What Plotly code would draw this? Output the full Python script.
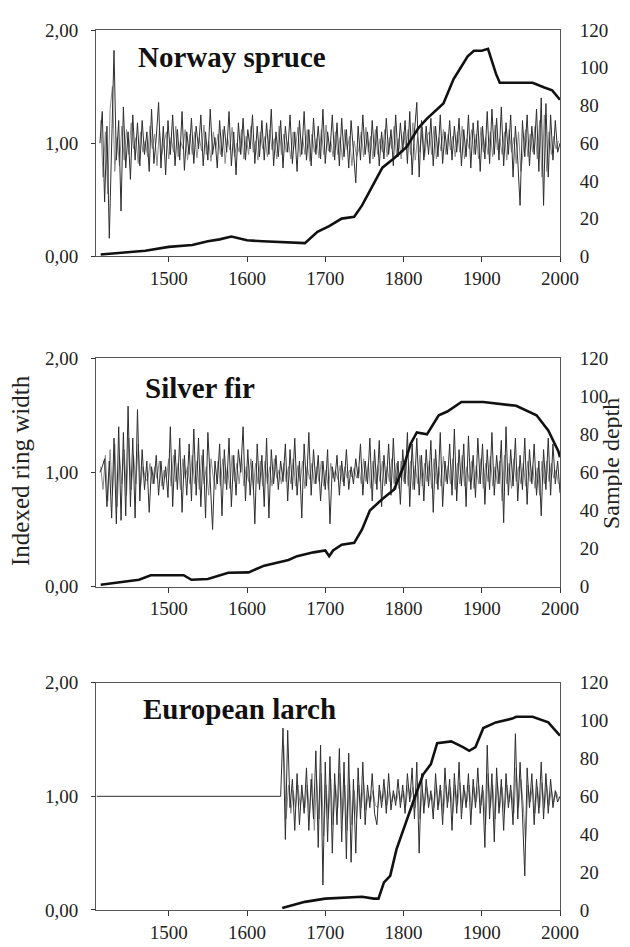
import plotly.graph_objects as go

# ---------------- data ----------------
# ring-width index (dark curve), sampled every 3 years
spruce_years = list(range(1412, 2001, 3))
spruce_index = [
    1.0, 1.28, 0.48, 1.15, 0.16, 1.05, 1.82, 0.85, 1.2, 0.4,
    1.32, 0.78, 1.1, 0.68, 1.25, 0.85, 1.18, 0.8, 1.2, 0.9,
    1.1, 0.75, 1.3, 0.82, 1.05, 1.36, 0.78, 1.15, 0.72, 1.2,
    0.9, 1.25, 0.8, 1.12, 0.85, 1.28, 0.76, 1.1, 0.9, 1.22,
    0.82, 1.15, 0.95, 1.25, 0.8, 1.1, 0.85, 1.3, 0.9, 1.05,
    0.78, 1.2, 0.88, 1.15, 0.92, 1.28, 0.8, 1.1, 0.72, 1.18,
    0.9, 1.22, 0.85, 1.12, 0.95, 1.25, 0.82, 1.15, 0.88, 1.2,
    0.85, 1.18, 0.9, 1.3, 0.8, 1.1, 0.88, 1.2, 0.78, 1.15,
    0.92, 1.25, 0.82, 1.1, 0.75, 1.2, 0.9, 1.28, 0.85, 1.12,
    0.8, 1.22, 0.9, 1.15, 0.86, 1.3, 0.82, 1.1, 0.92, 1.25,
    0.85, 1.18, 0.8, 1.22, 0.88, 1.12, 0.78, 1.2, 0.9, 0.65,
    1.15, 0.85, 1.25, 0.9, 1.1, 0.82, 1.2, 0.88, 1.15, 0.8,
    1.1, 0.86, 1.22, 0.9, 1.12, 0.8, 1.25, 0.88, 1.18, 0.92,
    1.2, 0.82, 1.28, 0.72, 1.1, 1.36, 0.7, 1.2, 0.85, 1.15,
    0.9, 1.22, 0.8, 1.15, 0.88, 1.25, 0.82, 1.1, 0.9, 1.2,
    0.85, 1.15, 0.92, 1.22, 0.8, 1.12, 0.88, 1.25, 0.78, 1.18,
    0.9, 1.2, 0.75, 1.15, 0.86, 1.28, 0.82, 1.3, 0.9, 1.22,
    0.85, 1.32, 0.8, 1.18, 0.9, 1.25, 0.7, 1.15, 0.85, 0.45,
    1.2, 0.88, 1.25, 0.8, 1.15, 0.9, 1.3, 0.75, 1.4, 0.45,
    1.35, 0.7, 1.25, 0.85, 1.2, 0.92, 1.0,
]
# ring-width index (light curve)
spruce_years_b = list(range(1413, 2000, 3))
spruce_index_b = [
    1.2, 0.7, 1.1, 0.55, 1.3, 1.5, 0.75, 1.05, 0.8, 1.15,
    0.85, 1.12, 0.9, 1.18, 0.95, 1.05, 0.82, 1.1, 0.92, 1.02,
    0.88, 1.15, 0.95, 1.08, 0.8, 1.12, 0.9, 1.0, 1.1, 0.86,
    1.05, 0.92, 1.15, 0.88, 1.02, 0.95, 1.12, 0.85, 1.08, 0.9,
    1.1, 0.87, 1.05, 0.93, 1.16, 0.9, 1.02, 0.84, 1.1, 0.95,
    1.08, 0.9, 1.12, 0.82, 1.05, 0.94, 1.14, 0.88, 1.0, 0.92,
    1.12, 0.86, 1.06, 0.9, 1.15, 0.92, 1.02, 0.85, 1.1, 0.95,
    1.06, 0.88, 1.12, 0.94, 1.04, 0.86, 1.15, 0.9, 1.08, 0.92,
    1.02, 0.86, 1.1, 0.95, 1.14, 0.88, 1.05, 0.9, 1.12, 0.84,
    1.08, 0.92, 1.04, 0.87, 1.12, 0.9, 1.16, 0.93, 1.02, 0.88,
    1.1, 0.9, 1.05, 0.85, 1.12, 0.94, 1.06, 0.8, 1.02, 0.88,
    0.95, 1.1, 0.88, 1.14, 0.92, 1.06, 0.86, 1.12, 0.9, 1.04,
    0.92, 1.12, 0.88, 1.05, 0.95, 1.15, 0.9, 1.04, 0.86, 1.1,
    0.95, 1.12, 0.9, 1.18, 0.85, 1.05, 0.92, 1.14, 0.88, 1.06,
    1.1, 0.9, 1.15, 0.86, 1.05, 0.93, 1.12, 0.9, 1.08, 0.94,
    1.06, 0.88, 1.1, 0.92, 1.15, 0.86, 1.04, 0.95, 1.12, 0.9,
    1.08, 0.86, 1.14, 0.92, 1.05, 0.9, 1.1, 0.88, 1.16, 0.94,
    1.04, 0.9, 1.1, 0.85, 1.12, 0.92, 1.05, 0.82, 1.1, 0.75,
    0.95, 1.12, 0.88, 1.08, 0.92, 1.15, 0.86, 1.2, 0.7, 1.25,
    0.75, 1.1, 0.9, 1.06, 0.95, 1.02,
]

fir_years = list(range(1412, 2001, 3))
fir_index = [
    1.0, 1.05, 1.12, 0.7, 1.1, 0.6, 1.3, 0.55, 1.4, 0.58,
    1.35, 0.62, 1.58, 0.7, 1.3, 0.6, 1.55, 0.75, 1.2, 0.85,
    1.1, 0.65, 1.05, 0.9, 1.15, 0.8, 1.1, 0.85, 1.05, 0.78,
    1.4, 0.7, 1.2, 0.85, 1.3, 0.65, 1.15, 0.8, 1.25, 0.75,
    1.38, 0.8, 1.3, 0.7, 1.2, 0.6, 1.35, 0.85, 0.5, 1.1,
    0.9, 1.25, 0.62, 1.2, 0.85, 1.3, 0.7, 1.15, 0.8, 1.2,
    1.0, 1.4, 0.75, 1.2, 0.8, 1.1, 0.55, 1.25, 0.85, 1.15,
    0.7, 1.3, 0.6, 1.2, 0.9, 1.15, 0.85, 1.1, 0.92, 1.25,
    0.75, 1.2, 0.85, 1.3, 0.8, 1.1, 0.6, 1.25, 0.88, 1.35,
    0.8, 1.2, 0.9, 1.15, 0.75, 1.1, 0.85, 1.2, 0.55, 1.05,
    0.92, 1.15, 0.8, 1.1, 0.88, 1.2, 0.85, 1.05, 0.9, 1.12,
    0.95, 1.25, 0.8, 1.1, 0.9, 1.3, 0.75, 1.2, 0.85, 1.28,
    0.7, 1.15, 0.9, 1.25, 0.8, 1.3, 0.85, 1.1, 0.72, 1.2,
    0.9, 1.35, 0.7, 1.25, 0.85, 1.3, 0.8, 1.15, 0.75, 1.2,
    0.88, 1.28, 0.65, 1.2, 0.85, 1.35, 0.7, 1.1, 0.9, 1.25,
    0.8, 1.38, 0.75, 1.2, 0.88, 1.25, 0.7, 1.32, 0.85, 1.15,
    0.78, 1.3, 0.9, 1.25, 0.72, 1.2, 0.85, 1.35, 0.8, 1.15,
    0.9, 1.28, 0.56, 1.4, 0.8, 1.2, 0.88, 1.3, 0.75, 1.15,
    0.85, 1.3, 0.72, 1.2, 0.9, 1.25, 0.8, 1.1, 0.62, 1.2,
    0.85, 1.3, 0.8, 1.25, 0.9, 1.1, 0.82,
]
fir_years_b = list(range(1413, 2000, 3))
fir_index_b = [
    1.05, 0.85, 1.15, 0.75, 1.2, 0.8, 1.25, 0.7, 1.15, 0.9,
    1.2, 0.8, 1.3, 0.85, 1.15, 0.9, 1.25, 0.88, 1.05, 0.95,
    0.92, 1.08, 0.9, 1.05, 0.95, 1.1, 0.88, 1.02, 0.95, 1.12,
    0.88, 1.15, 0.92, 1.08, 0.85, 1.12, 0.95, 1.05, 0.9, 1.15,
    0.9, 1.1, 0.85, 1.15, 0.9, 1.05, 0.8, 1.12, 0.95, 0.85,
    1.1, 0.88, 1.12, 0.9, 1.05, 0.86, 1.15, 0.92, 1.08, 0.9,
    1.15, 0.88, 1.05, 0.92, 1.12, 0.85, 1.08, 0.9, 1.1, 0.88,
    1.1, 0.9, 1.05, 0.88, 1.12, 0.95, 1.02, 0.9, 1.08, 0.92,
    1.05, 0.9, 1.12, 0.88, 1.06, 0.92, 1.1, 0.86, 1.05, 0.94,
    1.08, 0.9, 1.05, 0.92, 1.1, 0.88, 1.02, 0.85, 1.08, 0.95,
    1.02, 0.94, 1.06, 0.92, 1.05, 0.95, 1.02, 0.96, 1.04, 0.95,
    1.05, 0.9, 1.12, 0.92, 1.08, 0.86, 1.1, 0.9, 1.06, 0.92,
    1.1, 0.88, 1.05, 0.92, 1.12, 0.9, 1.08, 0.86, 1.1, 0.92,
    1.12, 0.88, 1.1, 0.85, 1.06, 0.9, 1.15, 0.88, 1.08, 0.92,
    1.1, 0.86, 1.12, 0.9, 1.05, 0.88, 1.14, 0.92, 1.06, 0.9,
    1.12, 0.85, 1.08, 0.9, 1.15, 0.88, 1.05, 0.92, 1.1, 0.86,
    1.06, 0.9, 1.12, 0.86, 1.08, 0.92, 1.14, 0.88, 1.05, 0.9,
    1.1, 0.75, 1.15, 0.9, 1.08, 0.86, 1.12, 0.92, 1.05, 0.9,
    1.08, 0.88, 1.1, 0.92, 1.06, 0.86, 1.04, 0.8, 1.1, 0.9,
    1.1, 0.92, 1.08, 0.95, 1.02, 0.9,
]

larch_years = [1408, 1643] + list(range(1646, 2001, 3))
larch_index = [1.0, 1.0] + [
    1.6, 0.62, 1.58, 0.9, 1.15, 0.7, 1.2, 0.75, 1.1, 0.85,
    1.25, 0.7, 1.15, 0.8, 1.4, 0.55, 1.45, 0.22, 1.3, 0.6,
    1.35, 0.5, 1.2, 0.75, 1.42, 0.6, 1.3, 0.45, 1.38, 0.42,
    1.15, 0.5, 1.25, 0.8, 1.3, 0.75, 1.1, 0.9, 1.2, 0.85,
    0.75, 1.1, 0.9, 1.15, 0.85, 1.2, 0.88, 1.05, 0.92, 1.15,
    0.9, 1.1, 0.85, 1.2, 0.95, 1.25, 0.8, 1.3, 0.5, 1.2,
    0.85, 1.15, 0.9, 1.05, 0.8, 1.2, 0.88, 1.1, 0.75, 1.25,
    0.9, 1.15, 0.7, 1.2, 0.85, 1.3, 0.8, 1.1, 0.9, 1.2,
    0.75, 1.15, 0.9, 1.25, 0.85, 1.1, 0.55, 1.45, 0.8, 1.2,
    0.6, 1.25, 0.85, 1.15, 0.7, 1.2, 0.9, 1.1, 0.75, 1.55,
    0.8, 1.3, 0.85, 0.3, 1.25, 0.9, 1.2, 0.75, 1.15, 0.85,
    1.3, 0.8, 1.2, 0.85, 1.15, 0.9, 1.05, 0.95, 1.0,
]
larch_years_b = list(range(1647, 2000, 3))
larch_index_b = [
    1.45, 0.8, 1.1, 0.85, 1.05, 0.9, 1.1, 0.92, 1.02, 0.9,
    1.1, 0.85, 1.2, 0.7, 1.15, 0.8, 1.2, 0.65, 1.1, 0.8,
    1.15, 0.75, 1.1, 0.9, 1.2, 0.8, 1.1, 0.7, 1.15, 0.75,
    1.05, 0.8, 1.1, 0.9, 1.12, 0.88, 1.02, 0.95, 1.05, 0.92,
    0.9, 1.05, 0.95, 1.08, 0.92, 1.05, 0.95, 1.02, 0.96, 1.05,
    0.95, 1.05, 0.92, 1.1, 0.98, 1.08, 0.9, 1.12, 0.8, 1.05,
    0.92, 1.08, 0.95, 1.02, 0.9, 1.1, 0.92, 1.05, 0.85, 1.1,
    0.95, 1.08, 0.85, 1.1, 0.92, 1.12, 0.9, 1.05, 0.95, 1.1,
    0.88, 1.08, 0.95, 1.1, 0.92, 1.05, 0.75, 1.2, 0.9, 1.1,
    0.8, 1.12, 0.9, 1.08, 0.85, 1.1, 0.95, 1.05, 0.85, 1.25,
    0.9, 1.15, 0.92, 0.6, 1.1, 0.95, 1.1, 0.85, 1.08, 0.9,
    1.12, 0.9, 1.1, 0.92, 1.06, 0.95, 1.04, 0.98,
]

# sample depth
spruce_depth_years = [1413, 1440, 1470, 1500, 1530, 1550, 1565, 1580, 1600, 1620,
                      1643, 1660, 1674, 1690, 1705, 1721, 1737, 1747, 1757, 1773,
                      1788, 1804, 1819, 1830, 1851, 1864, 1873, 1882, 1890, 1900,
                      1908, 1913, 1918, 1923, 1940, 1965, 1980, 1990, 1996, 2000]
spruce_depth = [1, 2, 3, 5, 6, 8, 9, 10.5, 8.5, 8,
                7.5, 7, 7, 13, 16, 20, 21, 27, 35, 47,
                52, 58, 68, 73, 81, 94, 100, 106, 109, 109,
                110, 103, 97, 92, 92, 92, 89.5, 88, 85, 83]

fir_depth_years = [1413, 1430, 1446, 1462, 1477, 1498, 1519, 1529, 1550, 1576,
                   1602, 1622, 1653, 1664, 1685, 1700, 1705, 1710, 1721, 1737,
                   1747, 1757, 1773, 1788, 1801, 1809, 1817, 1830, 1845, 1856,
                   1874, 1902, 1944, 1970, 1985, 1998, 2000]
fir_depth = [1, 2, 2.6, 3.6, 6, 6, 6, 3.6, 4, 7.3,
             7.5, 11, 14, 16, 18, 19, 16, 19, 22, 23,
             30, 40, 46, 51, 64, 75, 81, 80, 90, 92,
             97, 97, 95, 90, 82, 71, 68]

larch_depth_years = [1645, 1659, 1674, 1700, 1747, 1762, 1768, 1775, 1783, 1791,
                     1801, 1814, 1825, 1835, 1843, 1861, 1876, 1884, 1892, 1902,
                     1918, 1939, 1944, 1965, 1985, 1998, 2000]
larch_depth = [1, 2.6, 4.3, 6, 7, 6, 6, 14.6, 18, 32,
               44, 59, 71.5, 77, 88, 89, 86, 84, 86, 96,
               99, 101, 102, 102, 99, 93, 92]

species = ["Norway spruce", "Silver fir", "European larch"]
left_ticks = [0, 1, 2]
left_ticktext = ["0,00", "1,00", "2,00"]
right_ticks = [0, 20, 40, 60, 80, 100, 120]
x_ticks = [1500, 1600, 1700, 1800, 1900, 2000]

# ---------------- figure ----------------
FONT = "Liberation Serif"
INK = "#222222"
domains = [[0.7428, 1.0], [0.3675, 0.627], [0.0, 0.2584]]
title_pos = [(0.086, 0.9688), (0.101, 0.5935), (0.097, 0.2283)]

series = [
    (spruce_years, spruce_index, spruce_years_b, spruce_index_b, spruce_depth_years, spruce_depth),
    (fir_years, fir_index, fir_years_b, fir_index_b, fir_depth_years, fir_depth),
    (larch_years, larch_index, larch_years_b, larch_index_b, larch_depth_years, larch_depth),
]

fig = go.Figure()
layout = {}
for i, (yrs, idx, yrs_b, idx_b, dyrs, dep) in enumerate(series):
    n = i + 1
    xa = "x" if n == 1 else f"x{n}"
    yl = "y" if n == 1 else f"y{2*n-1}"
    yr = f"y{2*n}"
    fig.add_trace(go.Scatter(x=yrs_b, y=idx_b, xaxis=xa, yaxis=yl, mode="lines",
                             line=dict(color="#8c8c8c", width=1), showlegend=False))
    fig.add_trace(go.Scatter(x=yrs, y=idx, xaxis=xa, yaxis=yl, mode="lines",
                             line=dict(color="#2e2e2e", width=1), showlegend=False))
    fig.add_trace(go.Scatter(x=dyrs, y=dep, xaxis=xa, yaxis=yr, mode="lines",
                             line=dict(color="#111111", width=2.6), showlegend=False))
    xkey = "xaxis" if n == 1 else f"xaxis{n}"
    ylkey = "yaxis" if n == 1 else f"yaxis{2*n-1}"
    yrkey = f"yaxis{2*n}"
    layout[xkey] = dict(domain=[0, 1], range=[1407, 2000], anchor=yl,
                        tickvals=x_ticks, ticks="outside", ticklen=5, tickcolor="#333",
                        showline=True, linecolor="#555", linewidth=1, mirror=True,
                        showgrid=False, zeroline=False,
                        tickfont=dict(family=FONT, size=19, color=INK))
    layout[ylkey] = dict(domain=domains[i], range=[0, 2], anchor=xa,
                         tickvals=left_ticks, ticktext=left_ticktext,
                         ticks="outside", ticklen=4, tickcolor="#333",
                         ticklabelstandoff=9,
                         showline=True, linecolor="#555", linewidth=1,
                         showgrid=False, zeroline=False,
                         tickfont=dict(family=FONT, size=19, color=INK))
    layout[yrkey] = dict(domain=domains[i], range=[0, 120], anchor=xa,
                         overlaying=yl, side="right",
                         tickvals=right_ticks, ticks="", ticklabelstandoff=15,
                         showline=True, linecolor="#555", linewidth=1,
                         showgrid=False, zeroline=False,
                         tickfont=dict(family=FONT, size=19, color=INK))

annotations = []
for name, (px, py) in zip(species, title_pos):
    annotations.append(dict(text=f"<b>{name}</b>", x=px, y=py, xref="paper", yref="paper",
                            xanchor="left", yanchor="middle", showarrow=False,
                            font=dict(family=FONT, size=29, color="#111")))
annotations.append(dict(text="Indexed ring width", x=(13 - 88) / 464, y=0.4989, xref="paper",
                        yref="paper", textangle=-90, showarrow=False,
                        xanchor="center", yanchor="middle",
                        font=dict(family=FONT, size=25, color=INK)))
annotations.append(dict(text="Sample depth", x=(603 - 88) / 464, y=0.5067, xref="paper",
                        yref="paper", textangle=-90, showarrow=False,
                        xanchor="center", yanchor="middle",
                        font=dict(family=FONT, size=24, color=INK)))

fig.update_layout(
    width=630, height=947,
    margin=dict(l=88, r=78, t=17, b=32),
    paper_bgcolor="white", plot_bgcolor="white",
    annotations=annotations,
    **layout,
)
fig.write_html("out.html")
